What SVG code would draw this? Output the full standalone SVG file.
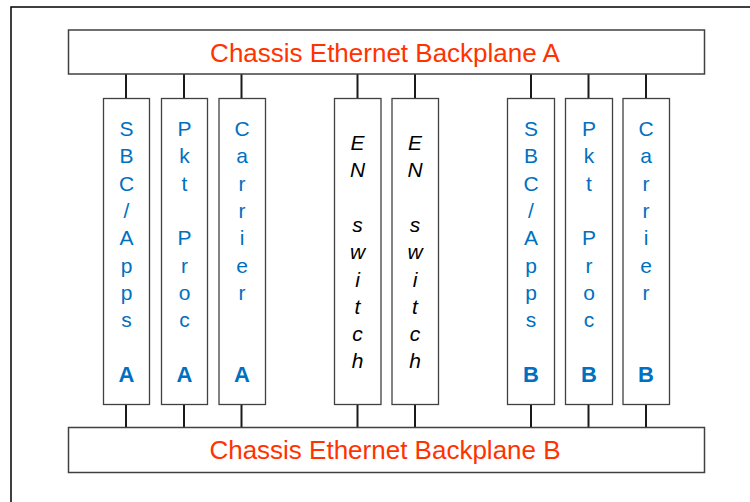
<svg xmlns="http://www.w3.org/2000/svg" width="750" height="502" viewBox="0 0 750 502">
<style>
.frame{fill:none;stroke:#000;stroke-width:1.5}
.bp{fill:#fff;stroke:#404040;stroke-width:1.5}
.card{fill:#fff;stroke:#404040;stroke-width:1.3}
.conn line{stroke:#1a1a1a;stroke-width:2}
.title{font-family:"Liberation Sans",Arial,sans-serif;font-size:26px;fill:#FF3300;text-anchor:middle}
.v{font-family:"Liberation Sans",Arial,sans-serif;font-size:21px;fill:#0070C0;text-anchor:middle}
.vb{font-family:"Liberation Sans",Arial,sans-serif;font-size:22px;font-weight:bold;fill:#0070C0;text-anchor:middle}
.sw{font-family:"Liberation Sans",Arial,sans-serif;font-size:21px;font-style:italic;fill:#000;text-anchor:middle}
</style>
<rect x="0" y="0" width="750" height="502" fill="#fff"/>
<rect class="frame" x="11" y="7" width="760" height="520"/>
<g id="connectors" class="conn">
<line x1="126" y1="74" x2="126" y2="98"/>
<line x1="184" y1="74" x2="184" y2="98"/>
<line x1="241.5" y1="74" x2="241.5" y2="98"/>
<line x1="357.5" y1="74" x2="357.5" y2="98"/>
<line x1="415" y1="74" x2="415" y2="98"/>
<line x1="531" y1="74" x2="531" y2="98"/>
<line x1="588.5" y1="74" x2="588.5" y2="98"/>
<line x1="646" y1="74" x2="646" y2="98"/>
<line x1="126" y1="404.5" x2="126" y2="427"/>
<line x1="184" y1="404.5" x2="184" y2="427"/>
<line x1="241.5" y1="404.5" x2="241.5" y2="427"/>
<line x1="357.5" y1="404.5" x2="357.5" y2="427"/>
<line x1="415" y1="404.5" x2="415" y2="427"/>
<line x1="531" y1="404.5" x2="531" y2="427"/>
<line x1="588.5" y1="404.5" x2="588.5" y2="427"/>
<line x1="646" y1="404.5" x2="646" y2="427"/>
</g>
<g id="backplaneA">
<rect class="bp" x="68.5" y="30" width="636" height="44"/>
<text class="title" x="385" y="61.5">Chassis Ethernet Backplane A</text>
</g>
<g id="backplaneB">
<rect class="bp" x="68.5" y="427.5" width="636" height="45"/>
<text class="title" x="385" y="459">Chassis Ethernet Backplane B</text>
</g>
<g id="sbcA">
<rect class="card" x="103.5" y="98.5" width="46" height="306"/>
<text class="v" x="126.5"><tspan x="126.5" y="136">S</tspan><tspan x="126.5" y="163.3">B</tspan><tspan x="126.5" y="190.6">C</tspan><tspan x="126.5" y="218">/</tspan><tspan x="126.5" y="245.4">A</tspan><tspan x="126.5" y="272.7">p</tspan><tspan x="126.5" y="300">p</tspan><tspan x="126.5" y="327.3">s</tspan></text>
<text class="vb" x="126.5" y="382.3">A</text>
</g>
<g id="pktA">
<rect class="card" x="161.5" y="98.5" width="46" height="306"/>
<text class="v" x="184.5"><tspan x="184.5" y="136">P</tspan><tspan x="184.5" y="163.3">k</tspan><tspan x="184.5" y="190.6">t</tspan><tspan x="184.5" y="245.4">P</tspan><tspan x="184.5" y="272.7">r</tspan><tspan x="184.5" y="300">o</tspan><tspan x="184.5" y="327.3">c</tspan></text>
<text class="vb" x="184.5" y="382.3">A</text>
</g>
<g id="carrierA">
<rect class="card" x="219" y="98.5" width="46.5" height="306"/>
<text class="v" x="242"><tspan x="242" y="136">C</tspan><tspan x="242" y="163.3">a</tspan><tspan x="242" y="190.6">r</tspan><tspan x="242" y="218">r</tspan><tspan x="242" y="245.4">i</tspan><tspan x="242" y="272.7">e</tspan><tspan x="242" y="300">r</tspan></text>
<text class="vb" x="242" y="382.3">A</text>
</g>
<g id="enSwitch1">
<rect class="card" x="334.5" y="98.5" width="46.5" height="306"/>
<text class="sw" x="357.5"><tspan x="357.5" y="150">E</tspan><tspan x="357.5" y="177.3">N</tspan><tspan x="357.5" y="231.9">s</tspan><tspan x="357.5" y="259.2">w</tspan><tspan x="357.5" y="286.5">i</tspan><tspan x="357.5" y="313.8">t</tspan><tspan x="357.5" y="341.1">c</tspan><tspan x="357.5" y="368.4">h</tspan></text>
</g>
<g id="enSwitch2">
<rect class="card" x="392" y="98.5" width="46.5" height="306"/>
<text class="sw" x="415"><tspan x="415" y="150">E</tspan><tspan x="415" y="177.3">N</tspan><tspan x="415" y="231.9">s</tspan><tspan x="415" y="259.2">w</tspan><tspan x="415" y="286.5">i</tspan><tspan x="415" y="313.8">t</tspan><tspan x="415" y="341.1">c</tspan><tspan x="415" y="368.4">h</tspan></text>
</g>
<g id="sbcB">
<rect class="card" x="507.5" y="98.5" width="47" height="306"/>
<text class="v" x="531"><tspan x="531" y="136">S</tspan><tspan x="531" y="163.3">B</tspan><tspan x="531" y="190.6">C</tspan><tspan x="531" y="218">/</tspan><tspan x="531" y="245.4">A</tspan><tspan x="531" y="272.7">p</tspan><tspan x="531" y="300">p</tspan><tspan x="531" y="327.3">s</tspan></text>
<text class="vb" x="531" y="382.3">B</text>
</g>
<g id="pktB">
<rect class="card" x="565.5" y="98.5" width="47" height="306"/>
<text class="v" x="589"><tspan x="589" y="136">P</tspan><tspan x="589" y="163.3">k</tspan><tspan x="589" y="190.6">t</tspan><tspan x="589" y="245.4">P</tspan><tspan x="589" y="272.7">r</tspan><tspan x="589" y="300">o</tspan><tspan x="589" y="327.3">c</tspan></text>
<text class="vb" x="589" y="382.3">B</text>
</g>
<g id="carrierB">
<rect class="card" x="623" y="98.5" width="46.5" height="306"/>
<text class="v" x="646"><tspan x="646" y="136">C</tspan><tspan x="646" y="163.3">a</tspan><tspan x="646" y="190.6">r</tspan><tspan x="646" y="218">r</tspan><tspan x="646" y="245.4">i</tspan><tspan x="646" y="272.7">e</tspan><tspan x="646" y="300">r</tspan></text>
<text class="vb" x="646" y="382.3">B</text>
</g>
</svg>
